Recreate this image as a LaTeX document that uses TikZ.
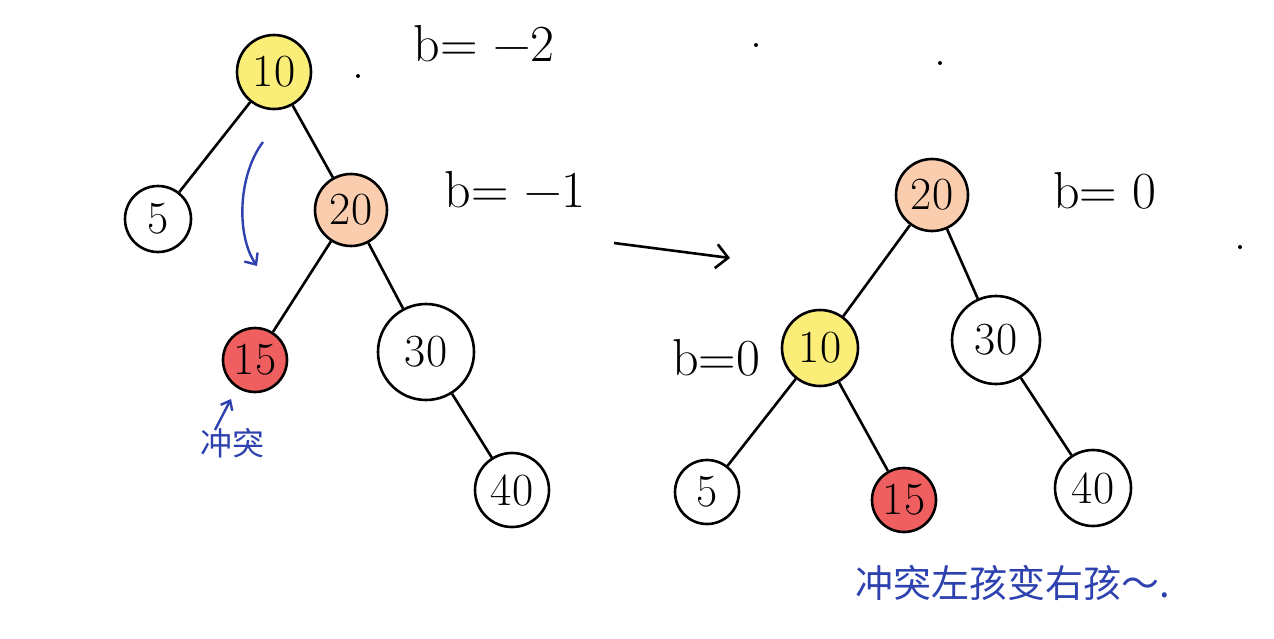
\documentclass[tikz,border=0pt]{standalone}
\usepackage{fontspec}
\newfontfamily\cjk{Noto Sans CJK SC}
\usetikzlibrary{arrows.meta}
\definecolor{ylw}{RGB}{250,238,120}
\definecolor{peach}{RGB}{250,205,175}
\definecolor{redf}{RGB}{240,95,95}
\definecolor{pen}{RGB}{45,65,175}
\tikzset{
  tn/.style={circle,draw=black,line width=2.6pt,inner sep=0pt,font=\fontsize{46}{46}\selectfont},
  edge/.style={line width=2.6pt,black},
  lbl/.style={font=\fontsize{52}{52}\selectfont,anchor=center},
  bluepen/.style={pen,line width=2.4pt},
  stray/.style={circle,fill=black,inner sep=0pt,minimum size=4pt}
}
\begin{document}
\begin{tikzpicture}[x=1pt,y=-1pt]
\useasboundingbox (0,0) rectangle (1274,638);
% left tree
\node[tn,fill=ylw,minimum size=74pt] (L10) at (274,72) {10};
\node[tn,minimum size=66pt] (L5) at (158,219) {5};
\node[tn,fill=peach,minimum size=72pt] (L20) at (351,210) {20};
\node[tn,fill=redf,minimum size=64pt] (L15) at (255,360) {15};
\node[tn,minimum size=96pt] (L30) at (426,352) {30};
\node[tn,minimum size=74pt] (L40) at (512,490) {40};
\draw[edge] (L10) -- (L5);
\draw[edge] (L10) -- (L20);
\draw[edge] (L20) -- (L15);
\draw[edge] (L20) -- (L30);
\draw[edge] (L30) -- (L40);
% right tree
\node[tn,fill=peach,minimum size=72pt] (R20) at (932,195) {20};
\node[tn,fill=ylw,minimum size=76pt] (R10) at (820,348) {10};
\node[tn,minimum size=88pt] (R30) at (996,340) {30};
\node[tn,minimum size=64pt] (R5) at (707,492) {5};
\node[tn,fill=redf,minimum size=64pt] (R15) at (904,500) {15};
\node[tn,minimum size=76pt] (R40) at (1093,488) {40};
\draw[edge] (R20) -- (R10);
\draw[edge] (R20) -- (R30);
\draw[edge] (R10) -- (R5);
\draw[edge] (R10) -- (R15);
\draw[edge] (R30) -- (R40);
% balance labels
\node[lbl] (bA) at (484,44) {b=~−2};
\node[lbl] (bB) at (515,190) {b=~−1};
\node[lbl] (bC) at (1105,191) {b=~0};
\node[lbl] (bD) at (716,358) {b=0};
% rotation arrow
\coordinate (ra) at (614,243);
\coordinate (rb) at (730,258);
\draw[edge,-{Straight Barb[length=12pt,width=24pt]}] (ra) -- (rb);
% blue curved arrow
\coordinate (ca) at (263,142);
\coordinate (cb) at (257,266);
\draw[bluepen,-{Straight Barb[length=9pt,width=16pt]}] (ca) .. controls (238,175) and (236,235) .. (cb);
% conflict label
\node[font=\cjk\fontsize{32}{32}\selectfont,pen] (cf) at (232,443) {冲突};
\coordinate (cfa) at (215,430);
\coordinate (cfb) at (231,399);
\draw[bluepen,-{Straight Barb[length=8pt,width=13pt]}] (cfa) -- (cfb);
\node[font=\cjk\fontsize{38}{38}\selectfont,pen] (note) at (1013,583) {冲突左孩变右孩～.};
% stray dots
\node[stray] (d1) at (358,76) {};
\node[stray] (d2) at (756,45) {};
\node[stray] (d3) at (940,63) {};
\node[stray] (d4) at (1240,247) {};
\end{tikzpicture}
\end{document}
